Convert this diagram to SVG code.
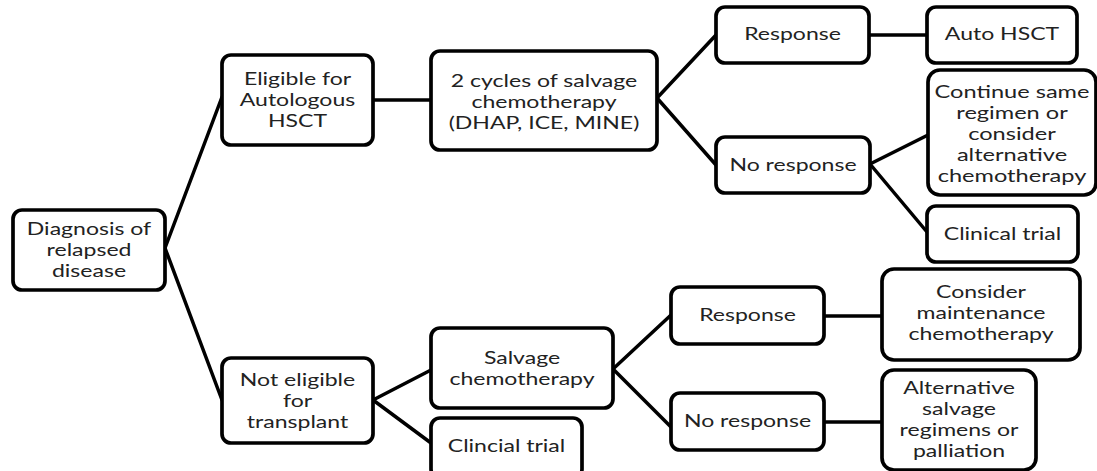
<svg xmlns="http://www.w3.org/2000/svg" width="1097" height="471" viewBox="0 0 1097 471">
<style>
.box{fill:#fff;stroke:#000;stroke-width:3.7}
.lbl{font-family:Lato,"Open Sans","Liberation Sans",sans-serif;font-size:18px;font-weight:400;fill:#222;text-anchor:middle}
.con line{stroke:#000;stroke-width:3.5;stroke-linecap:round}
</style>
<rect width="1097" height="471" fill="#fff"/>
<g class="con" id="connectors">
<line x1="165" y1="248" x2="222" y2="97"/>
<line x1="165" y1="248" x2="222" y2="400"/>
<line x1="373" y1="100" x2="431" y2="100"/>
<line x1="657" y1="98" x2="716" y2="35"/>
<line x1="657" y1="98" x2="716" y2="165"/>
<line x1="869" y1="35" x2="927" y2="35"/>
<line x1="870" y1="164" x2="928" y2="135"/>
<line x1="870" y1="164" x2="927" y2="232"/>
<line x1="373" y1="400" x2="431" y2="370"/>
<line x1="373" y1="400" x2="431" y2="443"/>
<line x1="613" y1="369" x2="671" y2="315"/>
<line x1="613" y1="369" x2="671" y2="427"/>
<line x1="824" y1="316" x2="882" y2="316"/>
<line x1="824" y1="422" x2="882" y2="422"/>
</g>
<g id="diag">
<rect class="box" x="13" y="210" width="152" height="80" rx="9"/>
<text class="lbl" transform="translate(89 0) scale(1.28 1)"><tspan x="0" y="235">Diagnosis of</tspan><tspan x="0" y="256">relapsed</tspan><tspan x="0" y="277">disease</tspan></text>
</g>
<g id="eligible">
<rect class="box" x="222" y="55" width="151" height="90" rx="9"/>
<text class="lbl" transform="translate(297.5 0) scale(1.28 1)"><tspan x="0" y="85">Eligible for</tspan><tspan x="0" y="106">Autologous</tspan><tspan x="0" y="127">HSCT</tspan></text>
</g>
<g id="cycles">
<rect class="box" x="431" y="51" width="226" height="99" rx="9"/>
<text class="lbl" transform="translate(544 0) scale(1.28 1)"><tspan x="0" y="87">2 cycles of salvage</tspan><tspan x="0" y="108">chemotherapy</tspan><tspan x="0" y="129">(DHAP, ICE, MINE)</tspan></text>
</g>
<g id="resp1">
<rect class="box" x="716" y="7" width="153" height="56" rx="9"/>
<text class="lbl" transform="translate(792.5 0) scale(1.28 1)"><tspan x="0" y="40">Response</tspan></text>
</g>
<g id="auto">
<rect class="box" x="927" y="7" width="150" height="56" rx="9"/>
<text class="lbl" transform="translate(1002 0) scale(1.28 1)"><tspan x="0" y="40">Auto HSCT</tspan></text>
</g>
<g id="continue">
<rect class="box" x="928" y="70" width="168" height="125" rx="12"/>
<text class="lbl" transform="translate(1012 0) scale(1.31 1)"><tspan x="0" y="98">Continue same</tspan><tspan x="0" y="119">regimen or</tspan><tspan x="0" y="140">consider</tspan><tspan x="0" y="161">alternative</tspan><tspan x="0" y="182">chemotherapy</tspan></text>
</g>
<g id="noresp1">
<rect class="box" x="716" y="137" width="154" height="56" rx="9"/>
<text class="lbl" transform="translate(793 0) scale(1.28 1)"><tspan x="0" y="171">No response</tspan></text>
</g>
<g id="clin1">
<rect class="box" x="927" y="206" width="151" height="56" rx="9"/>
<text class="lbl" transform="translate(1002.5 0) scale(1.28 1)"><tspan x="0" y="240">Clinical trial</tspan></text>
</g>
<g id="noteligible">
<rect class="box" x="222" y="358" width="151" height="85" rx="9"/>
<text class="lbl" transform="translate(297.5 0) scale(1.28 1)"><tspan x="0" y="386">Not eligible</tspan><tspan x="0" y="407">for</tspan><tspan x="0" y="428">transplant</tspan></text>
</g>
<g id="salvage">
<rect class="box" x="431" y="328" width="182" height="80" rx="9"/>
<text class="lbl" transform="translate(522 0) scale(1.28 1)"><tspan x="0" y="364">Salvage</tspan><tspan x="0" y="385">chemotherapy</tspan></text>
</g>
<g id="clin2">
<rect class="box" x="431" y="418" width="151" height="60" rx="9"/>
<text class="lbl" transform="translate(506.5 0) scale(1.28 1)"><tspan x="0" y="452">Clincial trial</tspan></text>
</g>
<g id="resp2">
<rect class="box" x="671" y="287" width="153" height="57" rx="9"/>
<text class="lbl" transform="translate(747.5 0) scale(1.28 1)"><tspan x="0" y="321">Response</tspan></text>
</g>
<g id="noresp2">
<rect class="box" x="671" y="393" width="153" height="57" rx="9"/>
<text class="lbl" transform="translate(747.5 0) scale(1.28 1)"><tspan x="0" y="427">No response</tspan></text>
</g>
<g id="maint">
<rect class="box" x="882" y="269" width="198" height="91" rx="12"/>
<text class="lbl" transform="translate(981 0) scale(1.28 1)"><tspan x="0" y="298">Consider</tspan><tspan x="0" y="319">maintenance</tspan><tspan x="0" y="340">chemotherapy</tspan></text>
</g>
<g id="alt">
<rect class="box" x="882" y="370" width="154" height="100" rx="12"/>
<text class="lbl" transform="translate(959 0) scale(1.28 1)"><tspan x="0" y="394">Alternative</tspan><tspan x="0" y="415">salvage</tspan><tspan x="0" y="436">regimens or</tspan><tspan x="0" y="457">palliation</tspan></text>
</g>
</svg>
